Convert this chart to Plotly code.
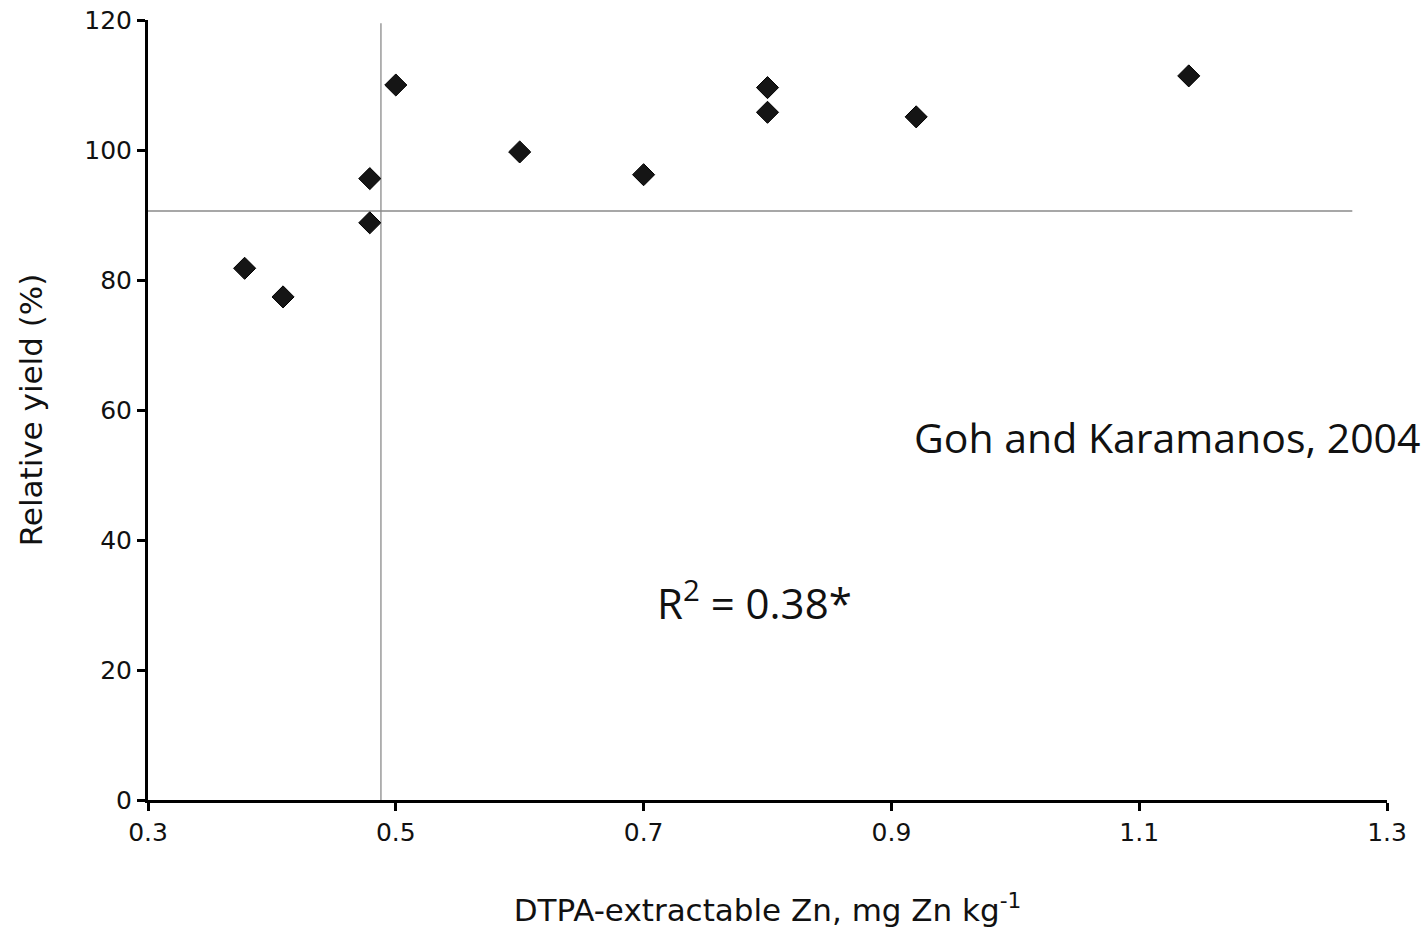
import plotly.graph_objects as go

zn = [0.378, 0.409, 0.479, 0.479, 0.50, 0.60, 0.70, 0.80, 0.80, 0.92, 1.14]
rel_yield = [81.8, 77.4, 95.6, 88.8, 110.0, 99.7, 96.2, 109.6, 105.8, 105.1, 111.4]

critical_zn = 0.488
critical_yield = 90.6
hline_end = 1.272

x_ticks = [0.3, 0.5, 0.7, 0.9, 1.1, 1.3]
y_ticks = [0, 20, 40, 60, 80, 100, 120]

fig = go.Figure()
fig.add_trace(go.Scatter(
    x=zn, y=rel_yield, mode="markers",
    marker=dict(symbol="diamond", size=17, color="#151515",
                line=dict(color="#000000", width=1)),
    showlegend=False, cliponaxis=False,
))

fig.add_shape(type="line", x0=critical_zn, x1=critical_zn, y0=0, y1=119.5,
              xref="x", yref="y", line=dict(color="#9a9a9a", width=1.5), layer="below")
fig.add_shape(type="line", x0=0.3, x1=hline_end, y0=critical_yield, y1=critical_yield,
              xref="x", yref="y", line=dict(color="#8a8a8a", width=1.5), layer="below")

fig.add_annotation(x=0.617, y=0.466, xref="paper", yref="paper",
                   text="Goh and Karamanos, 2004", showarrow=False,
                   xanchor="left", yanchor="middle",
                   font=dict(family="Open Sans", size=41, color="#111111"))
fig.add_annotation(x=0.409, y=0.256, xref="paper", yref="paper",
                   text="R<sup>2</sup> = 0.38*", showarrow=False,
                   xanchor="left", yanchor="middle",
                   font=dict(family="Open Sans", size=42, color="#111111"))

axis_common = dict(
    showgrid=False, zeroline=False, showline=True, linecolor="#000000", linewidth=3,
    ticks="outside", ticklen=8, tickwidth=3, tickcolor="#000000",
    tickfont=dict(family="DejaVu Sans", size=25, color="#111111"),
)

fig.update_xaxes(
    range=[0.3, 1.3], tickvals=x_ticks, ticktext=[f"{v:g}" for v in x_ticks],
    title=dict(text="DTPA-extractable Zn, mg Zn kg<sup>-1</sup>",
               font=dict(family="DejaVu Sans", size=31, color="#111111"), standoff=54),
    **axis_common,
)
fig.update_yaxes(
    range=[0, 120], tickvals=y_ticks,
    title=dict(text="Relative yield (%)",
               font=dict(family="DejaVu Sans", size=31, color="#111111"), standoff=33),
    **axis_common,
)

fig.update_layout(
    width=1422, height=934,
    margin=dict(l=148, r=35, t=20, b=134, autoexpand=False),
    paper_bgcolor="white", plot_bgcolor="white",
)

fig.write_html("out.html")
